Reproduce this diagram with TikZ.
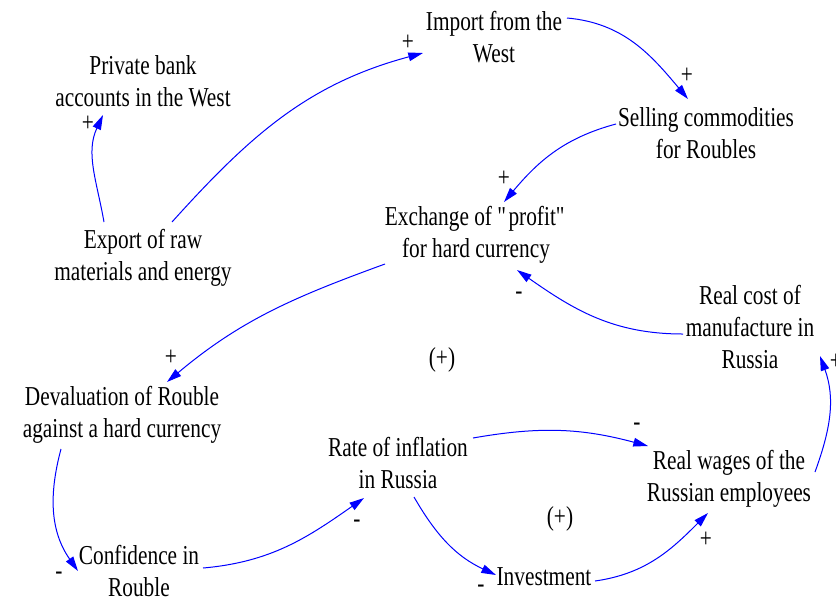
\documentclass[tikz,border=0pt]{standalone}
\usepackage{fontspec}
\setmainfont{Liberation Serif}[FakeStretch=0.78]
\usetikzlibrary{arrows.meta}
\tikzset{
  var/.style={align=center, inner sep=0pt, font=\fontsize{20.5}{24}\selectfont},
  sign/.style={inner sep=0pt, font=\fontsize{20.5}{24}\selectfont},
  link/.style={blue, line width=0.75pt, -{Triangle[length=11pt,width=6.5pt]}},
}
\begin{document}
\begin{tikzpicture}[x=0.75pt,y=0.75pt]
    \useasboundingbox (0,0) rectangle (836,-601);
    % variables
    \node[var] (bank) at (143,-81) {Private bank\\accounts in the West};
    \node[var] (import) at (494,-37) {Import from the\\West};
    \node[var] (selling) at (706,-133) {Selling commodities\\for Roubles};
    \node[var] (export) at (143,-258) {Export of raw\\materials and energy};
    \node[var] (exchange) at (476,-235) {Exchange of \textquotedbl profit\textquotedbl\\for hard currency};
    \node[var] (realcost) at (750,-327) {Real cost of\\manufacture in\\Russia};
    \node[var] (deval) at (122,-415) {Devaluation of Rouble\\against a hard currency};
    \node[var] (rate) at (398,-463) {Rate of inflation\\in Russia};
    \node[var] (wages) at (729,-479) {Real wages of the\\Russian employees};
    \node[var] (confid) at (139,-571) {Confidence in\\Rouble};
    \node[var] (invest) at (544,-577) {Investment};
    % loop marks
    \node[sign] (loopA) at (442,-360) {(+)};
    \node[sign] (loopB) at (560,-519) {(+)};
    % links
    \draw[link] ([shift={(-39,36)}]export.center) to[out=100,in=-115] ([shift={(-40,-34)}]bank.center);
    \draw[link] ([shift={(29,36)}]export.center) to[out=48,in=195] ([shift={(-71,-16)}]import.center);
    \draw[link] ([shift={(73,19)}]import.center) to[out=-5,in=130] ([shift={(-18,34)}]selling.center);
    \draw[link] ([shift={(-90,9)}]selling.center) to[out=195,in=50] ([shift={(28,33)}]exchange.center);
    \draw[link] ([shift={(-67,-7)}]realcost.center) to[out=180,in=-35] ([shift={(41,-35)}]exchange.center);
    \draw[link] ([shift={(-91,-29)}]exchange.center) to[out=200,in=40] ([shift={(45,33)}]deval.center);
    \draw[link] ([shift={(-61,-34)}]deval.center) to[out=-105,in=125] ([shift={(-61,0)}]confid.center);
    \draw[link] ([shift={(64,3)}]confid.center) to[out=5,in=215] ([shift={(-34,-35)}]rate.center);
    \draw[link] ([shift={(75,25)}]rate.center) to[out=10,in=165] ([shift={(-81,33)}]wages.center);
    \draw[link] ([shift={(16,-34)}]rate.center) to[out=-60,in=155] ([shift={(-48,2)}]invest.center);
    \draw[link] ([shift={(51,-4)}]invest.center) to[out=8,in=225] ([shift={(-21,-34)}]wages.center);
    \draw[link] ([shift={(86,7)}]wages.center) to[out=70,in=-70] ([shift={(70,-29)}]realcost.center);
    % polarities
    \node[sign] (s1) at (88,-124) {+};
    \node[sign] (s2) at (408,-43) {+};
    \node[sign] (s3) at (687,-76) {+};
    \node[sign] (s4) at (504,-179) {+};
    \node[sign] (s5) at (519,-296) {-};
    \node[sign] (s6) at (171,-358) {+};
    \node[sign] (s7) at (59,-576) {-};
    \node[sign] (s8) at (357,-524) {-};
    \node[sign] (s9) at (637,-427) {-};
    \node[sign] (s10) at (481,-589) {-};
    \node[sign] (s11) at (706,-540) {+};
    \node[sign] (s12) at (836,-362) {+};
\end{tikzpicture}
\end{document}
